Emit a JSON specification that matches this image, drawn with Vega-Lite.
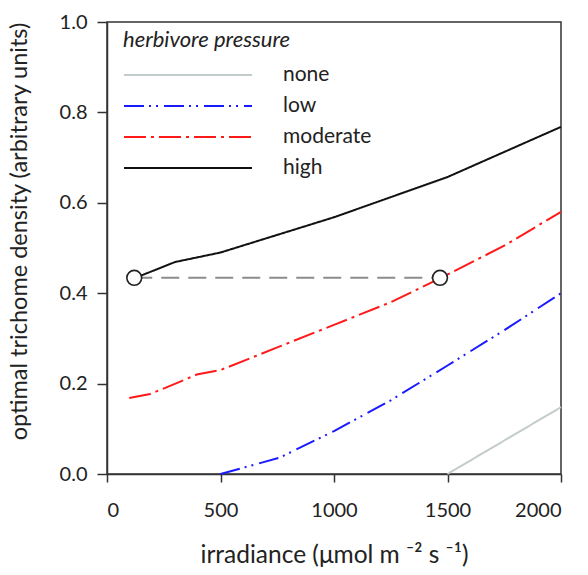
{
  "$schema": "https://vega.github.io/schema/vega-lite/v6.json",
  "autosize": {"type": "none"},
  "padding": {"left": 107, "top": 22, "right": 27, "bottom": 101},
  "width": 454,
  "height": 452,
  "config": {
    "font": "Lato",
    "view": {"stroke": "#333333", "strokeWidth": 1.5},
    "axis": {
      "grid": false,
      "domainColor": "#333333",
      "domainWidth": 1.5,
      "tickColor": "#333333",
      "tickWidth": 1.5,
      "labelFont": "Lato",
      "labelFontSize": 20,
      "labelColor": "#222222",
      "titleFont": "Lato",
      "titleFontSize": 23.5,
      "titleFontWeight": "normal",
      "titleColor": "#222222"
    },
    "legend": {
      "orient": "none",
      "legendX": 16,
      "legendY": 8,
      "titleFont": "Lato",
      "titleFontStyle": "italic",
      "titleFontWeight": "normal",
      "titleFontSize": 22,
      "titleColor": "#222222",
      "titlePadding": 6,
      "labelFont": "Lato",
      "labelFontSize": 21,
      "labelColor": "#222222",
      "labelOffset": 126,
      "symbolType": "M-1,0H7",
      "symbolSize": 1024,
      "symbolStrokeWidth": 2,
      "rowPadding": 4
    }
  },
  "layer": [
    {
      "data": {"values": [{"irr": 120, "dens": 0.434}, {"irr": 1467, "dens": 0.434}]},
      "mark": {"type": "line", "color": "#8c8c8c", "strokeWidth": 2, "strokeDash": [18, 9]},
      "encoding": {
        "x": {"field": "irr", "type": "quantitative"},
        "y": {"field": "dens", "type": "quantitative"}
      }
    },
    {
      "data": {"values": [
        {"series": "none", "irr": 1500, "dens": 0.0},
        {"series": "none", "irr": 2000, "dens": 0.148},
        {"series": "low", "irr": 500, "dens": 0.0},
        {"series": "low", "irr": 760, "dens": 0.036},
        {"series": "low", "irr": 1000, "dens": 0.095},
        {"series": "low", "irr": 1250, "dens": 0.163},
        {"series": "low", "irr": 1500, "dens": 0.24},
        {"series": "low", "irr": 1750, "dens": 0.318},
        {"series": "low", "irr": 2000, "dens": 0.4},
        {"series": "moderate", "irr": 98, "dens": 0.168},
        {"series": "moderate", "irr": 190, "dens": 0.177},
        {"series": "moderate", "irr": 307, "dens": 0.201},
        {"series": "moderate", "irr": 395, "dens": 0.22},
        {"series": "moderate", "irr": 500, "dens": 0.23},
        {"series": "moderate", "irr": 750, "dens": 0.28},
        {"series": "moderate", "irr": 1000, "dens": 0.33},
        {"series": "moderate", "irr": 1250, "dens": 0.38},
        {"series": "moderate", "irr": 1467, "dens": 0.433},
        {"series": "moderate", "irr": 1750, "dens": 0.505},
        {"series": "moderate", "irr": 2000, "dens": 0.58},
        {"series": "high", "irr": 120, "dens": 0.434},
        {"series": "high", "irr": 160, "dens": 0.441},
        {"series": "high", "irr": 300, "dens": 0.469},
        {"series": "high", "irr": 500, "dens": 0.49},
        {"series": "high", "irr": 1000, "dens": 0.568},
        {"series": "high", "irr": 1500, "dens": 0.657},
        {"series": "high", "irr": 2000, "dens": 0.768}
      ]},
      "mark": {"type": "line", "strokeWidth": 2},
      "encoding": {
        "x": {
          "field": "irr", "type": "quantitative",
          "scale": {"domain": [0, 2000], "nice": false},
          "axis": {"values": [0, 500, 1000, 1500, 2000], "format": "d", "tickSize": 8, "title": "irradiance (μmol m ⁻² s ⁻¹)", "titleFontSize": 24.5, "labelPadding": 18, "titlePadding": 23}
        },
        "y": {
          "field": "dens", "type": "quantitative",
          "scale": {"domain": [0, 1], "nice": false},
          "axis": {"values": [0, 0.2, 0.4, 0.6, 0.8, 1.0], "format": ".1f", "tickSize": 10, "title": "optimal trichome density (arbitrary units)", "labelPadding": 10, "titlePadding": 28, "titleY": 209}
        },
        "color": {
          "field": "series", "type": "nominal",
          "scale": {"domain": ["none", "low", "moderate", "high"], "range": ["#c3cccc", "#1a1aff", "#ff1a1a", "#111111"]},
          "legend": {"title": "herbivore pressure"}
        },
        "strokeDash": {
          "field": "series", "type": "nominal",
          "scale": {"domain": ["none", "low", "moderate", "high"], "range": [[1, 0], [20, 5, 2, 5, 2, 6], [22, 5, 3, 5], [1, 0]]},
          "legend": {"title": "herbivore pressure"}
        }
      }
    },
    {
      "data": {"values": [{"irr": 120, "dens": 0.434}, {"irr": 1467, "dens": 0.434}]},
      "mark": {"type": "point", "shape": "circle", "filled": true, "fill": "white", "stroke": "#222222", "strokeWidth": 1.6, "size": 220, "opacity": 1},
      "encoding": {
        "x": {"field": "irr", "type": "quantitative"},
        "y": {"field": "dens", "type": "quantitative"}
      }
    }
  ]
}
